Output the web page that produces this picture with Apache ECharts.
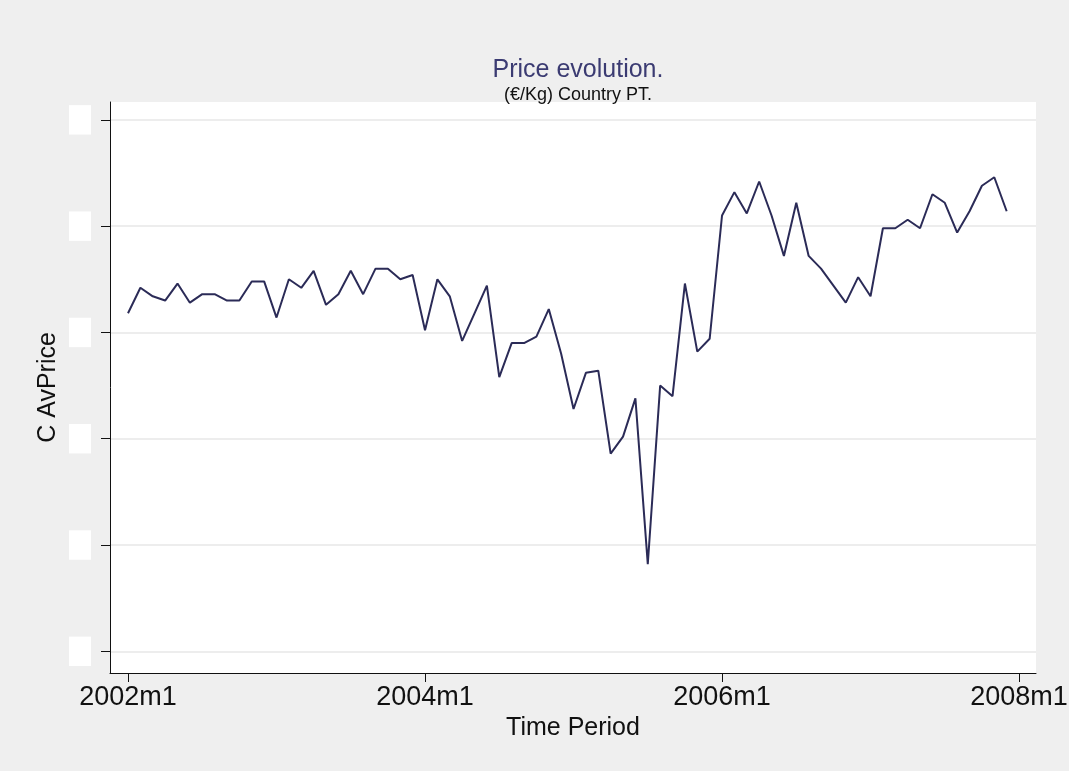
<!DOCTYPE html>
<html>
<head>
<meta charset="utf-8">
<title>Price evolution</title>
<script src="https://cdn.jsdelivr.net/npm/echarts@6/dist/echarts.min.js"></script>
<style>
    html, body { margin: 0; padding: 0; background: #efefef; }
    #priceChart { width: 1069px; height: 771px; }
</style>
</head>
<body>
<div id="priceChart"></div>
<script>
// monthly average price, 2002m1 .. 2007m12 (index 0 = 2002m1)
var priceValues = [
    2.59, 2.71, 2.67, 2.65, 2.73, 2.64, 2.68, 2.68, 2.65, 2.65, 2.74, 2.74,
    2.57, 2.75, 2.71, 2.79, 2.63, 2.68, 2.79, 2.68, 2.80, 2.80, 2.75, 2.77,
    2.51, 2.75, 2.67, 2.46, 2.59, 2.72, 2.29, 2.45, 2.45, 2.48, 2.61, 2.40,
    2.14, 2.31, 2.32, 1.93, 2.01, 2.19, 1.41, 2.25, 2.20, 2.73, 2.41, 2.47,
    3.05, 3.16, 3.06, 3.21, 3.05, 2.86, 3.11, 2.86, 2.80, 2.72, 2.64, 2.76,
    2.67, 2.99, 2.99, 3.03, 2.99, 3.15, 3.11, 2.97, 3.07, 3.19, 3.23, 3.07
];
// x ticks (months since 2002m1) and their labels
var xTickMonths = [0, 24, 48, 72];
var xTickLabels = ['2002m1', '2004m1', '2006m1', '2008m1'];
// y ticks (labels are blanked out in the source picture)
var yTickValues = [1.0, 1.5, 2.0, 2.5, 3.0, 3.5];

var chart = echarts.init(document.getElementById('priceChart'));

var seriesData = priceValues.map(function (v, i) {
    return [i, v];
});

var option = {
    backgroundColor: '#efefef',
    animation: false,
    title: [
        {
            text: 'Price evolution.',
            left: 573,
            textAlign: 'center',
            top: 53,
            textStyle: {
                fontFamily: 'Liberation Sans',
                fontWeight: 'normal',
                fontSize: 25,
                color: '#3b3b72'
            }
        },
        {
            text: '(€/Kg) Country PT.',
            left: 573,
            textAlign: 'center',
            top: 81,
            textStyle: {
                fontFamily: 'Liberation Sans',
                fontWeight: 'normal',
                fontSize: 18,
                color: '#111'
            }
        }
    ],
    grid: {
        left: 110,
        right: 33,
        top: 102,
        bottom: 98,
        outerBoundsMode: 'none',
        containLabel: false,
        show: true,
        backgroundColor: '#ffffff',
        borderWidth: 0
    },
    xAxis: {
        type: 'value',
        min: -1.455,
        max: 73.37,
        name: 'Time Period',
        nameLocation: 'middle',
        nameGap: 33,
        nameTextStyle: {
            fontFamily: 'Liberation Sans',
            fontSize: 25,
            color: '#111'
        },
        axisLine: { onZero: false, lineStyle: { color: '#111', width: 1 } },
        axisTick: {
            customValues: xTickMonths,
            length: 9,
            lineStyle: { color: '#111', width: 1 }
        },
        axisLabel: {
            customValues: xTickMonths,
            margin: 11,
            fontFamily: 'Liberation Sans',
            fontSize: 27,
            color: '#111',
            formatter: function (v) {
                var k = xTickMonths.indexOf(v);
                return k >= 0 ? xTickLabels[k] : '';
            }
        },
        splitLine: { show: false }
    },
    yAxis: {
        type: 'value',
        min: 0.898,
        max: 3.584,
        name: 'C AvPrice',
        nameLocation: 'middle',
        nameGap: 47,
        nameTextStyle: {
            fontFamily: 'Liberation Sans',
            fontSize: 25,
            color: '#111'
        },
        axisLine: { onZero: false, lineStyle: { color: '#111', width: 1 } },
        axisTick: {
            customValues: yTickValues,
            length: 9,
            lineStyle: { color: '#111', width: 1 }
        },
        axisLabel: {
            customValues: yTickValues,
            rotate: 90,
            margin: 19,
            fontFamily: 'Liberation Sans',
            fontSize: 14,
            color: '#ffffff',
            backgroundColor: '#ffffff',
            padding: [4, 5],
            formatter: function (v) {
                return v.toFixed(1);
            }
        },
        splitLine: {
            show: true,
            lineStyle: { color: '#ededed', width: 2 }
        }
    },
    series: [
        {
            type: 'line',
            data: seriesData,
            showSymbol: false,
            lineStyle: { color: '#2b2b57', width: 2 },
            itemStyle: { color: '#2b2b57' }
        }
    ]
};

chart.setOption(option);
</script>
</body>
</html>
